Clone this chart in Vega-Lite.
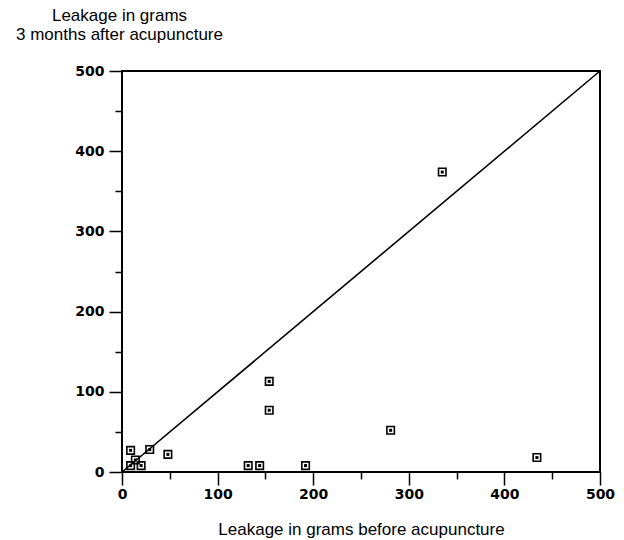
{
  "$schema": "https://vega.github.io/schema/vega-lite/v6.json",
  "autosize": {"type": "none"},
  "padding": {"left": 122, "top": 71, "right": 24, "bottom": 68},
  "width": 478,
  "height": 401,
  "background": "white",
  "config": {
    "view": {"stroke": "black", "strokeWidth": 2},
    "axis": {
      "domain": false,
      "grid": false,
      "tickColor": "black",
      "tickWidth": 1.5,
      "labelFont": "DejaVu Sans",
      "labelFontWeight": "bold",
      "labelFontSize": 14,
      "labelColor": "black",
      "titleFont": "Liberation Sans",
      "titleFontWeight": "normal",
      "titleFontSize": 17,
      "titleColor": "black"
    }
  },
  "datasets": {
    "pts": [
      {"before": 9, "after": 27},
      {"before": 29, "after": 28},
      {"before": 48, "after": 22},
      {"before": 14, "after": 15},
      {"before": 9, "after": 8},
      {"before": 20, "after": 8},
      {"before": 132, "after": 8},
      {"before": 144, "after": 8},
      {"before": 192, "after": 8},
      {"before": 154, "after": 113},
      {"before": 154, "after": 77},
      {"before": 281, "after": 52},
      {"before": 434, "after": 18},
      {"before": 335, "after": 374}
    ],
    "diag": [
      {"before": 0, "after": 0},
      {"before": 500, "after": 500}
    ]
  },
  "layer": [
    {
      "data": {"name": "diag"},
      "mark": {"type": "line", "color": "black", "strokeWidth": 1.6},
      "encoding": {
        "x": {
          "field": "before", "type": "quantitative",
          "scale": {"domain": [0, 500], "nice": false, "zero": false},
          "axis": {
            "orient": "bottom",
            "values": [0, 50, 100, 150, 200, 250, 300, 350, 400, 450, 500],
            "labelExpr": "datum.value % 100 === 0 ? datum.label : ''",
            "tickSize": {"condition": {"test": "datum.value % 100 === 0", "value": 13}, "value": 7},
            "labelPadding": 2,
            "labelFlush": false,
            "title": "Leakage in grams before acupuncture",
            "titleBaseline": "alphabetic",
            "titleY": 62
          }
        },
        "y": {
          "field": "after", "type": "quantitative",
          "scale": {"domain": [0, 500], "nice": false, "zero": false},
          "axis": {
            "orient": "left",
            "values": [0, 50, 100, 150, 200, 250, 300, 350, 400, 450, 500],
            "labelExpr": "datum.value % 100 === 0 ? datum.label : ''",
            "tickSize": {"condition": {"test": "datum.value % 100 === 0", "value": 13}, "value": 7},
            "labelPadding": 5,
            "labelFlush": false,
            "title": ["Leakage in grams", "3 months after acupuncture"],
            "titleAngle": 0,
            "titleAlign": "center",
            "titleBaseline": "alphabetic",
            "titleX": -3,
            "titleY": -51,
            "titleLineHeight": 19
          }
        }
      }
    },
    {
      "data": {"name": "pts"},
      "mark": {"type": "point", "shape": "square", "filled": false, "color": "black", "strokeWidth": 1.6, "size": 56, "opacity": 1},
      "encoding": {
        "x": {"field": "before", "type": "quantitative"},
        "y": {"field": "after", "type": "quantitative"}
      }
    },
    {
      "data": {"name": "pts"},
      "mark": {"type": "point", "shape": "square", "filled": true, "color": "black", "size": 9, "opacity": 1},
      "encoding": {
        "x": {"field": "before", "type": "quantitative"},
        "y": {"field": "after", "type": "quantitative"}
      }
    }
  ]
}
